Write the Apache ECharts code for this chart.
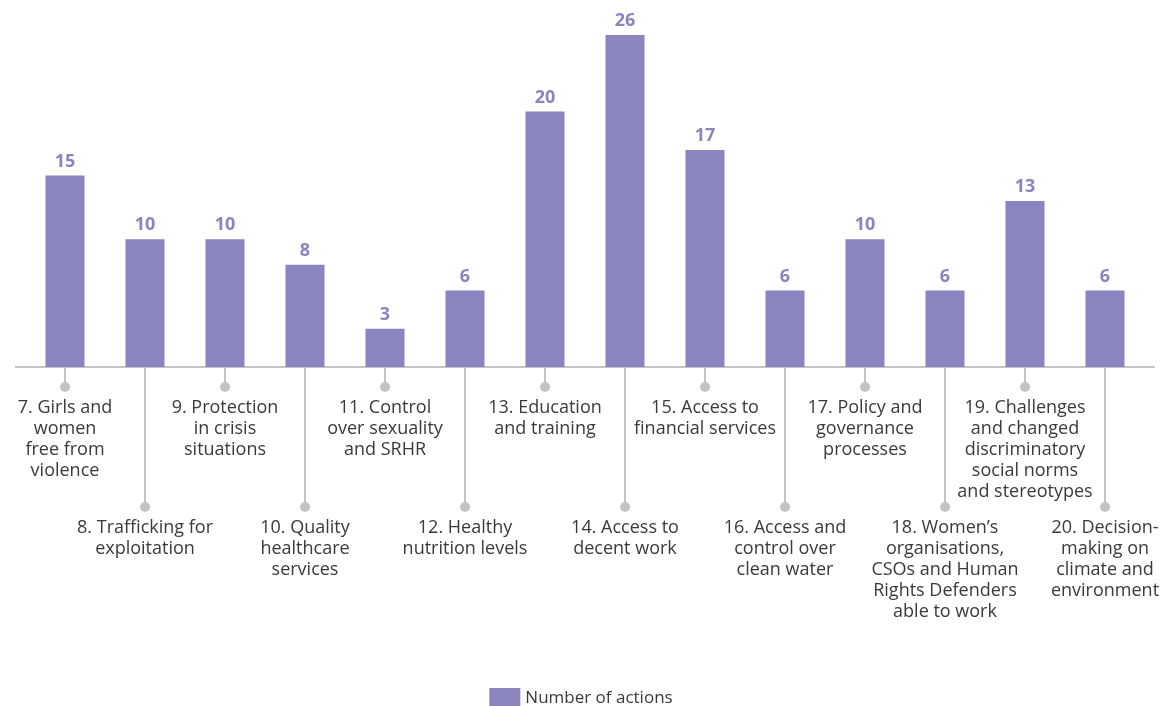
<!DOCTYPE html>
<html>
<head>
<meta charset="utf-8">
<script src="https://cdn.jsdelivr.net/npm/echarts@6/dist/echarts.min.js"></script>
<style>
  html, body { margin: 0; padding: 0; background: #fff; }
  #chart { width: 1162px; height: 706px; }
</style>
</head>
<body>
<div id="chart"></div>
<script>
// categories (line breaks as in the original)
var categories = [
  '7. Girls and\nwomen\nfree from\nviolence',
  '8. Trafficking for\nexploitation',
  '9. Protection\nin crisis\nsituations',
  '10. Quality\nhealthcare\nservices',
  '11. Control\nover sexuality\nand SRHR',
  '12. Healthy\nnutrition levels',
  '13. Education\nand training',
  '14. Access to\ndecent work',
  '15. Access to\nfinancial services',
  '16. Access and\ncontrol over\nclean water',
  '17. Policy and\ngovernance\nprocesses',
  '18. Women\u2019s\norganisations,\nCSOs and Human\nRights Defenders\nable to work',
  '19. Challenges\nand changed\ndiscriminatory\nsocial norms\nand stereotypes',
  '20. Decision-\nmaking on\nclimate and\nenvironment'
];
var actions = [15, 10, 10, 8, 3, 6, 20, 26, 17, 6, 10, 6, 13, 6];
// label row: 0 = upper row, 1 = lower row
var labelRow = [0, 1, 0, 1, 0, 1, 0, 1, 0, 1, 0, 1, 0, 1];

var purple = '#8a84bf';
var textColor = '#3a3a3a';
var stemColor = '#c4c4c4';
var fontFamily = '"Open Sans", "Noto Sans", sans-serif';

var stemData = labelRow.map(function (r, i) { return [i, r]; });

var option = {
  animation: false,
  grid: { left: 25, right: 17, top: 35, bottom: 339 },
  xAxis: {
    type: 'category',
    data: categories,
    axisLine: { show: false },
    axisTick: { show: false },
    axisLabel: { show: false }
  },
  yAxis: {
    type: 'value',
    min: 0,
    max: 26,
    show: false
  },
  legend: {
    data: ['Number of actions'],
    top: 683,
    left: 'center',
    icon: 'rect',
    itemWidth: 31,
    itemHeight: 21,
    itemGap: 9,
    textStyle: { color: textColor, fontSize: 17, fontFamily: fontFamily }
  },
  series: [
    {
      name: 'Number of actions',
      type: 'bar',
      data: actions,
      barWidth: 39,
      itemStyle: { color: purple },
      label: {
        show: true,
        position: 'top',
        distance: 5,
        color: purple,
        fontWeight: 'bold',
        fontSize: 18,
        fontFamily: fontFamily
      }
    },
    {
      name: 'stems',
      type: 'custom',
      data: stemData,
      clip: false,
      silent: true,
      encode: { x: 0 },
      renderItem: function (params, api) {
        var idx = api.value(0);
        var row = api.value(1);
        var p = api.coord([idx, 0]);
        var len = row === 0 ? 20 : 140;
        var y1 = p[1] + len;
        return {
          type: 'group',
          children: [
            {
              type: 'line',
              shape: { x1: p[0], y1: p[1], x2: p[0], y2: y1 },
              style: { stroke: stemColor, lineWidth: 2 }
            },
            {
              type: 'circle',
              shape: { cx: p[0], cy: y1, r: 5 },
              style: { fill: stemColor }
            },
            {
              type: 'text',
              x: p[0],
              y: y1 + 10,
              style: {
                text: categories[idx],
                align: 'center',
                verticalAlign: 'top',
                fill: textColor,
                fontSize: 18,
                lineHeight: 21,
                fontFamily: fontFamily
              }
            }
          ]
        };
      }
    }
  ]
};

var myChart = echarts.init(document.getElementById('chart'));
myChart.setOption(option);

// baseline running a little past the outer bars
var baseY = myChart.convertToPixel({ yAxisIndex: 0 }, 0);
myChart.setOption({
  graphic: [{
    type: 'line',
    z: 1,
    shape: { x1: 15, y1: baseY, x2: 1155, y2: baseY },
    style: { stroke: stemColor, lineWidth: 2 }
  }]
});
</script>
</body>
</html>
